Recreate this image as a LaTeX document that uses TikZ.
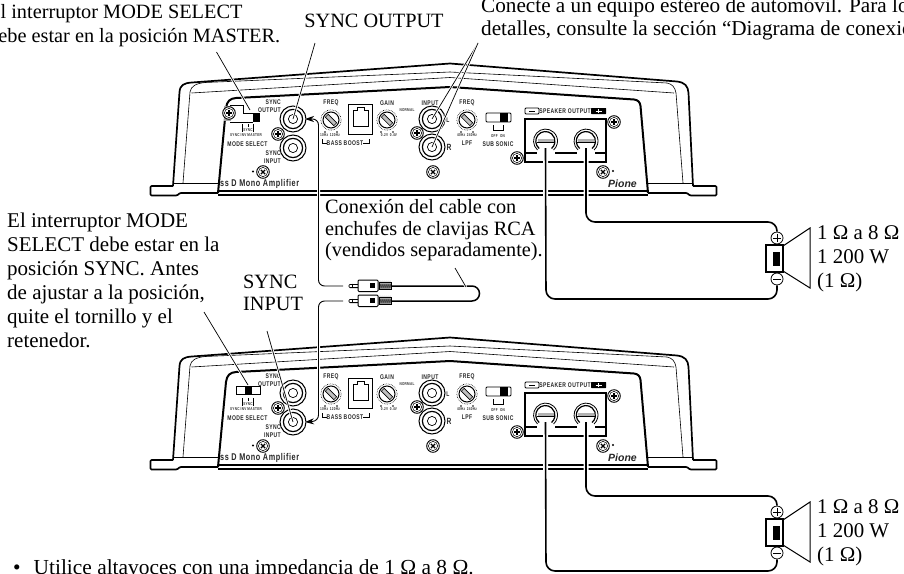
\documentclass[tikz,border=0pt]{standalone}
\usepackage{fontspec}
\setmainfont{Liberation Serif}
\newfontfamily\panelfont[FakeStretch=0.74,LetterSpace=6]{Liberation Sans}
\newfontfamily\brandfont{Liberation Sans}
\usetikzlibrary{arrows.meta,calc,positioning}
\tikzset{
  heavy/.style={line width=1.7pt},
  hair/.style={line width=0.6pt},
  caption/.style={font=\fontsize{20.3}{24}\selectfont,inner sep=0pt,align=left},
  tightcaption/.style={caption,font=\fontsize{20.3}{21.7}\selectfont},
  widecaption/.style={caption,font=\fontsize{21}{24}\selectfont},
  panel/.style={font=\panelfont\bfseries\fontsize{6.8}{7.6}\selectfont,inner sep=0pt,text=black!85},
  tinyprint/.style={font=\panelfont\bfseries\fontsize{4.2}{5}\selectfont,inner sep=0pt,text=black!80},
  leader/.style={line width=0.7pt,preaction={draw,white,line width=2.4pt}},
  wire/.style={line width=1.6pt,rounded corners=9pt,preaction={draw,white,line width=5pt}},
  signal/.style={line width=0.9pt,rounded corners=6pt,preaction={draw,white,line width=3pt}},
  screw/.pic={
    \draw[line width=0.9pt,fill=white] (0,0) circle (6.3pt);
    \draw[line width=0.5pt] (0,0) circle (4.6pt);
    \draw[line width=1.1pt] (-3,0)--(3,0) (0,-3)--(0,3);
  },
  jack/.pic={
    \draw[line width=1pt,fill=white] (0,0) circle (13pt);
    \draw[line width=1.2pt] (0,0) circle (9.6pt);
    \draw[line width=0.7pt] (0,0) circle (4.6pt);
  },
  knob/.pic={
    \draw[line width=0.6pt,densely dotted] (0,0) circle (10.2pt);
    \draw[line width=1pt] (0,0) circle (8pt);
    \draw[line width=0.6pt,fill=black!25,rotate=-45] (-6,-2) rectangle (6,2);
    \fill (-6,12) circle (0.8pt) (6,12) circle (0.8pt);
  },
  terminal/.pic={
    \draw[line width=0.8pt] (-8,9) arc[start angle=228,end angle=-48,radius=12pt];
    \draw[line width=1.2pt] (-6.3,7.5) arc[start angle=230,end angle=-50,radius=9.6pt];
    \fill[black!30] (-8,-2) rectangle (8,1);
    \draw[line width=0.6pt] (-9,1)--(9,1);
  },
  rcaplug/.pic={
    \draw[line width=0.8pt,rounded corners=1pt] (9,-1.6)--(0,-1.6)--(0,1.6)--(9,1.6);
    \draw[line width=0.5pt] (3,-2.4)--(3,2.4);
    \draw[line width=1pt,fill=white,rounded corners=1pt] (9,-6)--(29,-6)--(29,5.5)--(9,5.5)--cycle;
    \fill (21,-2.8) rectangle (26,2.4);
    \draw[line width=0.6pt] (30,-3.5) rectangle (42,3.5);
    \foreach \x in {30,32,...,40}{\draw[line width=0.5pt] (\x,3.5)--(\x+1,-3.5)--(\x+2,3.5);}
  },
  speaker/.pic={
    \draw[line width=1pt] (-27,8)--(0,-10)--(0,50)--(-27,33);
    \draw[line width=1.2pt,fill=white] (-44,7) rectangle (-27,34);
    \fill (-37,14) rectangle (-30,28);
    \node[draw,circle,line width=0.8pt,fill=white,minimum size=12pt,inner sep=0pt] (-plus) at (-33,0) {};
    \node[draw,circle,line width=0.8pt,fill=white,minimum size=12pt,inner sep=0pt] (-minus) at (-33,41) {};
    \draw[line width=0.7pt] (-37,0)--(-29,0) (-33,-4)--(-33,4) (-37,41)--(-29,41);
    \node[caption,anchor=north west,font=\fontsize{20.9}{24}\selectfont] (-rating) at (7,-13) {1 Ω a 8 Ω\\1 200 W\\(1 Ω)};
  },
  amplifier/.pic={
    % shell
    \draw[heavy,line join=round,rounded corners=1pt] (173,186)--(150.5,186)--(150.5,195.5)--(177,195.5)--(180,193)--(218,193);
    \draw[heavy] (173,186)--(179.5,92) .. controls (180,85) and (184,83) .. (192,82.5)--(450,63.5)--(677,81.5) .. controls (685,82.5) and (688,86) .. (688.5,93)--(693,186);
    \draw[heavy,line join=round,rounded corners=1pt] (693,186)--(716.5,186)--(716.5,195.5)--(690,195.5)--(687,193)--(648,193);
    \draw[hair] (183,183)--(190,92) .. controls (191,86) and (196,83.5) .. (205,82.5)--(450,72)--(667,83) .. controls (672,84) and (675,87) .. (676,93)--(683,183);
    \draw[hair] (191.5,93)--(450,77.5)--(674,93);
    \draw[hair] (173,183)--(218,183) (648,183)--(693,183);
    \draw[line width=2pt] (218,193)--(226,108) .. controls (227,101) and (230,98.5) .. (236,98)--(450,87)--(634,99.5) .. controls (638,100) and (640,102) .. (640.5,106)--(648,193);
    \draw[line width=1.3pt] (218,191)--(648,191) (218,195)--(648,195);
    % sync jacks
    \foreach \y/\n in {119/output,148/input}{
      \pic at (293,\y) {jack};
      \coordinate (-\n) at (293,\y);
      \coordinate (-\n tip) at (305,\y);
    }
    \pic at (278,134) {screw};
    \node[panel,align=right,anchor=north east] (-syncout) at (281,100) {SYNC\\OUTPUT};
    \node[panel,align=right,anchor=north east] (-syncin) at (281,151) {SYNC\\INPUT};
    \pic[rotate=45] at (263,172) {screw};
    \fill (253,171.5) circle (1.2pt);
    \node[panel,anchor=west,font=\panelfont\bfseries\fontsize{9.8}{10}\selectfont] (-model) at (220,184) {ss D Mono Amplifier};
    \node[panel,anchor=center] (-modelabel) at (247.5,144) {MODE SELECT};
    \node[tinyprint] (-modes) at (246,135.5) {SYNC INV MASTER};
    \node[tinyprint] (-modesb) at (248,130) {SYNC};
    \draw[line width=0.4pt] (242,127)--(242,124) (248,127)--(248,124) (253,127)--(253,124) (242,132)--(242,127) (253,132)--(253,127);
    % bass boost
    \node[panel] (-freqa) at (331,103) {FREQ};
    \pic at (331,120) {knob};
    \node[tinyprint] (-freqb) at (330,135.5) {10Hz\, 120Hz};
    \node[panel] (-bass) at (345,143) {BASS BOOST};
    \draw[line width=0.4pt] (322,139)--(322,143)--(327,143) (363,143)--(369,143)--(369,139);
    \draw[line width=1pt] (348.5,104) rectangle (372,134);
    \draw[line width=0.8pt] (353,110)--(357,110)--(357,107)--(364,107)--(364,110)--(368,110)--(368,126)--(353,126)--cycle;
    % gain
    \node[panel] (-gain) at (387,103) {GAIN};
    \pic at (387,120) {knob};
    \node[tinyprint] (-normal) at (407,110) {NORMAL};
    \node[tinyprint] (-volts) at (389,135.5) {0.2V\, 0.4V};
    % input jacks
    \node[panel] (-inlabel) at (430,103) {INPUT};
    \foreach \y/\n in {119/left,147/right}{
      \pic at (432,\y) {jack};
      \coordinate (-\n) at (432,\y);
    }
    \pic at (417,133) {screw};
    \pic[rotate=45] at (433,172) {screw};
    \node[panel] (-l) at (448,120) {L};
    \node[panel,font=\panelfont\bfseries\fontsize{9}{10}\selectfont] (-r) at (449,147) {R};
    % lpf
    \node[panel] (-freqc) at (467,103) {FREQ};
    \pic at (467,120) {knob};
    \node[tinyprint] (-freqd) at (467,135.5) {40Hz\, 240Hz};
    \node[panel] (-lpf) at (467,143.5) {LPF};
    \draw[line width=0.8pt,rounded corners=1pt] (486,113) rectangle (511,122);
    \fill (500,113) rectangle (508,122);
    \draw[line width=0.4pt] (493,125)--(493,130)--(503,130)--(503,125);
    \node[tinyprint] (-offon) at (498,136) {OFF\; ON};
    \node[panel] (-sonic) at (498,144) {SUB SONIC};
    % speaker output
    \draw[line width=0.8pt,rounded corners=1pt] (525,108) rectangle (539,114);
    \draw[line width=0.8pt] (529,111)--(535,111);
    \node[panel] (-spk) at (565,111) {SPEAKER OUTPUT};
    \fill[rounded corners=0.5pt] (591,108) rectangle (606,114);
    \draw[white,line width=0.8pt] (595.5,111)--(601.5,111) (598.5,108.8)--(598.5,113.2);
    \draw[line width=1.1pt] (525,119) rectangle (606,162);
    \draw[line width=1.1pt] (526,153)--(605,153);
    \foreach \x/\n in {545.5/neg,586/pos}{
      \fill[white] (\x-9,141) rectangle (\x+9,158);
      \pic at (\x,141) {terminal};
      \coordinate (-\n) at (\x,148);
    }
    \pic at (614,122) {screw};
    \pic at (517,158) {screw};
    \pic[rotate=45] at (603,172) {screw};
    \fill (613,171) circle (1.2pt);
    \node[panel,anchor=west,font=\brandfont\bfseries\itshape\fontsize{10.5}{12}\selectfont] (-brand) at (608,184) {Pione};
  }
}
\begin{document}
\begin{tikzpicture}[x=1pt,y=-1pt]
  \useasboundingbox (0,0) rectangle (904,573);
  \pic (upper) at (0,0) {amplifier};
  \pic (lower) at (0,274) {amplifier};
  % switch, upper unit
  \draw[line width=0.8pt] (230,105)--(243,105)--(243,113)--(253,113) (230,122)--(253,122);
  \fill[black!35] (224,106) rectangle (231,121);
  \pic at (229,113) {screw};
  \fill (253,113) rectangle (260,122);
  \coordinate (masterend) at (250,110);
  % switch, lower unit
  \draw[line width=0.9pt] (236,386) rectangle (260,394.5);
  \fill (245,386) rectangle (252,394.5);
  \coordinate (syncend) at (248,385);
  % speakers
  \pic (spka) at (810,238) {speaker};
  \pic (spkb) at (810,512) {speaker};
  % speaker wires
  \coordinate (wirea) at (546,299);
  \coordinate (wireb) at (586,222);
  \coordinate (wirec) at (546,571);
  \coordinate (wired) at (586,496);
  \draw[wire] (upper-neg) -- (wirea) -| (spka-minus);
  \draw[wire] (upper-pos) -- (wireb) -| (spka-plus);
  \draw[wire] (lower-neg) -- (wirec) -| (spkb-minus);
  \draw[wire] (lower-pos) -- (wired) -| (spkb-plus);
  % rca cable
  \pic (plugup) at (349,286) {rcaplug};
  \pic (plugdown) at (349,301) {rcaplug};
  \coordinate (cablea) at (391,286);
  \coordinate (cableb) at (391,301);
  \coordinate (cablebend) at (479.5,286);
  \coordinate (cableturn) at (479.5,301);
  \draw[line width=1.5pt,rounded corners=7.5pt] (cablea) -- (cablebend) -- (cableturn) -- (cableb);
  \coordinate (plugupend) at (343,286);
  \coordinate (plugdownend) at (343,301);
  \coordinate (outbend) at (318.5,119);
  \coordinate (inbend) at (318.5,421);
  \draw[signal,-{Stealth[length=9pt,width=6pt]}] (plugupend) -| (outbend) -- (upper-outputtip);
  \draw[signal,-{Stealth[length=9pt,width=6pt]}] (plugdownend) -| (inbend) -- (lower-inputtip);
  % captions
  \node[caption,anchor=north west] (toplabel) at (-12,4) {El interruptor MODE SELECT\\debe estar en la posición MASTER.};
  \node[caption,anchor=north] (synclabel) at (374,14) {SYNC OUTPUT};
  \node[caption,anchor=north west,font=\fontsize{21.2}{23}\selectfont] (stereolabel) at (481,-2) {Conecte a un equipo estéreo de automóvil. Para los\\detalles, consulte la sección “Diagrama de conexión”.};
  \node[widecaption,anchor=north west] (midlabel) at (7,213) {El interruptor MODE\\SELECT debe estar en la\\posición SYNC. Antes\\de ajustar a la posición,\\quite el tornillo y el\\retenedor.};
  \node[tightcaption,anchor=north west] (inlabel) at (243,275) {SYNC\\INPUT};
  \node[tightcaption,anchor=north west] (cablelabel) at (325,199) {Conexión del cable con\\enchufes de clavijas RCA\\(vendidos separadamente).};
  \node[caption,anchor=north west,font=\fontsize{21.4}{24}\selectfont] (note) at (13,559) {•\hspace{13pt}Utilice altavoces con una impedancia de 1 Ω a 8 Ω.};
  % leaders
  \coordinate (masterstart) at (216.5,52);
  \coordinate (outstart) at (315,43);
  \coordinate (instart) at (478,43);
  \coordinate (cablestart) at (455,268);
  \coordinate (cableend) at (466,287);
  \coordinate (syncstart) at (204,312);
  \coordinate (inputstart) at (267,331);
  \draw[leader] (masterstart) -- (masterend);
  \draw[leader] (outstart) -- (upper-output);
  \draw[leader] (instart) -- (upper-left);
  \draw[leader] (instart) -- (upper-right);
  \draw[leader] (cablestart) -- (cableend);
  \draw[leader] (syncstart) -- (syncend);
  \draw[leader] (inputstart) -- (lower-input);
\end{tikzpicture}
\end{document}
